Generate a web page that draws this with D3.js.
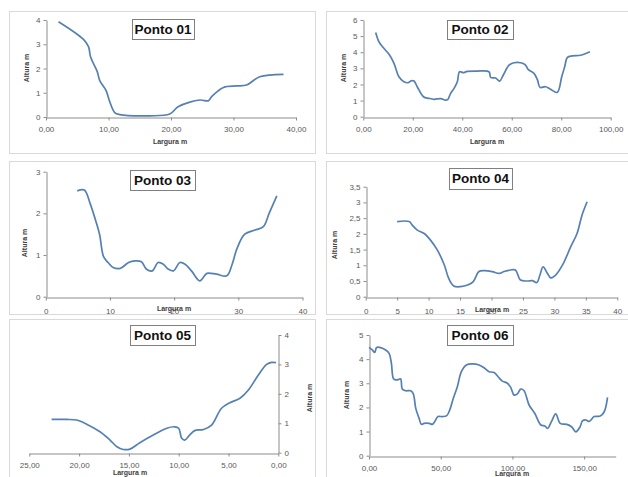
<!DOCTYPE html>
<html><head><meta charset="utf-8">
<script src="https://cdn.jsdelivr.net/npm/d3@7/dist/d3.min.js"></script>
<style>
html,body{margin:0;padding:0;background:#fff;}
svg{display:block;font-family:"Liberation Sans",Arial,sans-serif;}
</style></head><body>
<svg id="chart" width="628" height="477"></svg>
<script>
// ---------- DATA ----------
const titles = ["Ponto 01","Ponto 02","Ponto 03","Ponto 04","Ponto 05","Ponto 06"];
const xLabel = "Largura m";
const yLabel = "Altura m";

const p1X = [2,6,6.8,7.15,8.2,8.6,9.6,10.2,11.0,11.8,16.6,19.8,21.2,24.6,26,26.5,28.4,30.5,32.1,34.2,38];
const p1Y = [3.93,3.2,2.9,2.46,1.87,1.5,1.1,0.63,0.18,0.1,0.05,0.12,0.43,0.7,0.67,0.84,1.22,1.28,1.32,1.66,1.76];
const p1XTicks = [0,10,20,30,40];
const p1XTickLabels = ["0,00","10,00","20,00","30,00","40,00"];
const p1YTicks = [0,1,2,3,4];
const p1YTickLabels = ["0","1","2","3","4"];

const p2X = [5,6.3,7.7,10.4,12.4,14.4,16.4,18.2,19.4,20.5,21.8,24.3,26.5,28.6,31.3,33.3,34.2,35.3,36.7,38,38.9,40.4,42,46.1,50.8,51.5,53.5,55.1,56.6,58.9,60.9,63.6,65.4,66.6,69,70.4,71.4,73.7,75.5,78.4,80.2,81.4,82.5,84.5,87.9,91.6];
const p2Y = [5.23,4.66,4.35,3.87,3.31,2.48,2.17,2.11,2.23,2.21,1.86,1.24,1.14,1.08,1.12,1.03,1.08,1.45,1.76,2.17,2.79,2.73,2.81,2.83,2.79,2.44,2.4,2.21,2.59,3.2,3.35,3.35,3.23,2.94,2.69,2.28,1.82,1.86,1.72,1.51,2.48,3.1,3.68,3.77,3.81,4.03];
const p2XTicks = [0,20,40,60,80,100];
const p2XTickLabels = ["0,00","20,00","40,00","60,00","80,00","100,00"];
const p2YTicks = [0,1,2,3,4,5,6];
const p2YTickLabels = ["0","1","2","3","4","5","6"];

const p3X = [4.9,6.0,6.9,7.9,8.4,9.0,9.7,10.5,11.6,12.9,13.9,14.9,15.7,16.6,17.5,18.3,19.1,19.9,20.9,21.7,22.7,24.0,25.1,26.6,28.2,29.0,29.8,31.0,32.6,33.9,34.8,36.0];
const p3Y = [2.54,2.56,2.24,1.76,1.48,0.96,0.82,0.70,0.68,0.82,0.86,0.84,0.66,0.62,0.82,0.78,0.66,0.62,0.82,0.78,0.62,0.38,0.56,0.54,0.50,0.76,1.16,1.50,1.60,1.68,2.0,2.42];
const p3XTicks = [0,10,20,30,40];
const p3XTickLabels = ["0","10","20","30","40"];
const p3YTicks = [0,1,2,3];
const p3YTickLabels = ["0","1","2","3"];

const p4X = [5.0,6.9,7.4,8.2,9.3,10.3,11.4,12.5,13.2,14.0,15.1,16.2,17.1,18.0,18.8,20.1,21.2,22.0,23.0,23.8,24.6,25.7,26.5,27.2,27.7,28.2,28.9,29.4,30.2,31.3,32.6,33.6,34.4,35.2];
const p4Y = [2.39,2.39,2.28,2.12,2.01,1.80,1.48,1.01,0.58,0.34,0.32,0.37,0.48,0.80,0.83,0.80,0.74,0.80,0.85,0.85,0.53,0.50,0.51,0.45,0.69,0.95,0.74,0.60,0.69,1.01,1.59,2.01,2.60,3.02];
const p4XTicks = [0,5,10,15,20,25,30,35,40];
const p4XTickLabels = ["0","5","10","15","20","25","30","35","40"];
const p4YTicks = [0,0.5,1,1.5,2,2.5,3,3.5];
const p4YTickLabels = ["0","0,5","1","1,5","2","2,5","3","3,5"];

const p5X = [22.76,21.25,20.25,19.24,17.9,16.9,16.2,15.56,14.9,13.9,12.55,11.2,10.4,10.0,9.7,9.4,8.9,8.4,7.5,6.7,5.7,4.85,3.85,3.0,2.0,1.17,0.67,0.23];
const p5Y = [1.13,1.13,1.11,0.97,0.71,0.43,0.20,0.11,0.12,0.34,0.60,0.83,0.88,0.83,0.49,0.43,0.60,0.75,0.79,0.94,1.51,1.70,1.85,2.13,2.64,3.0,3.07,3.06];
const p5XTicks = [25,20,15,10,5,0];
const p5XTickLabels = ["25,00","20,00","15,00","10,00","5,00","0,00"];
const p5YTicks = [0,1,2,3,4];
const p5YTickLabels = ["0","1","2","3","4"];

const p6X = [0,2.3,4.0,5.3,8.1,11.6,14.0,15.6,17.0,18.6,20.9,22.1,23.3,25.6,29.1,30.9,32.6,34.9,36.5,38.4,41.9,44.2,45.8,48.1,51.2,54.2,56.5,58.8,61.6,64.4,67.9,72.1,76.7,80.7,83.7,87.2,90.0,93.0,96.5,98.8,101.2,103.5,105.8,108.1,111.6,115.6,119.8,122.6,124.4,127.2,130.2,133.3,137.9,141.2,144.2,147.2,148.8,151.2,153.5,157.0,161.2,164.0,166.3];
const p6Y = [4.49,4.38,4.28,4.48,4.48,4.38,4.24,3.83,3.20,3.14,3.16,3.18,2.75,2.69,2.69,2.56,1.96,1.55,1.30,1.34,1.34,1.30,1.41,1.62,1.62,1.66,1.93,2.38,2.86,3.48,3.76,3.80,3.76,3.62,3.48,3.45,3.27,3.09,3.00,2.83,2.51,2.56,2.76,2.69,2.10,1.75,1.27,1.23,1.13,1.41,1.73,1.34,1.30,1.20,0.99,1.20,1.44,1.48,1.42,1.62,1.64,1.82,2.42];
const p6XTicks = [0,50,100,150];
const p6XTickLabels = ["0,00","50,00","100,00","150,00"];
const p6YTicks = [0,1,2,3,4,5];
const p6YTickLabels = ["0","1","2","3","4","5"];

// ---------- LAYOUT ----------
const svg = d3.select("#chart");
const lineColor = "#5580b3";
const axisColor = "#8c8c8c";
const tickTextColor = "#595959";

const panels = [
  {box:[9,11,306,142], xs:p1X, ys:p1Y, xd:[0,40], yd:[0,4], xr:[46,296], yr:[117,20],
   xt:p1XTicks, xtl:p1XTickLabels, yt:p1YTicks, ytl:p1YTickLabels,
   title:titles[0], tb:[132,19,62,20], xl:[170,142], yl:[27,68], side:"left"},
  {box:[326,11,310,142], xs:p2X, ys:p2Y, xd:[0,100], yd:[0,6], xr:[363.3,610.7], yr:[116.7,20],
   xt:p2XTicks, xtl:p2XTickLabels, yt:p2YTicks, ytl:p2YTickLabels,
   title:titles[1], tb:[447,20,66,19], xl:[487,142], yl:[344,68], side:"left"},
  {box:[9,161,306,153], xs:p3X, ys:p3Y, xd:[0,40], yd:[0,3], xr:[45.8,302.5], yr:[296.7,171.7],
   xt:p3XTicks, xtl:p3XTickLabels, yt:p3YTicks, ytl:p3YTickLabels,
   title:titles[2], tb:[130,170,65,20], xl:[174,309], yl:[25,243], side:"left", tickOff:12},
  {box:[326,161,310,153], xs:p4X, ys:p4Y, xd:[0,40], yd:[0,3.5], xr:[365.7,617.3], yr:[296.7,186.7],
   xt:p4XTicks, xtl:p4XTickLabels, yt:p4YTicks, ytl:p4YTickLabels,
   title:titles[3], tb:[449,168,63,21], xl:[492,310], yl:[335,245], side:"left", tickOff:12},
  {box:[9,319,306,170], xs:p5X, ys:p5Y, xd:[25,0], yd:[0,4], xr:[29.3,278.3], yr:[452.7,335],
   xt:p5XTicks, xtl:p5XTickLabels, yt:p5YTicks, ytl:p5YTickLabels,
   title:titles[4], tb:[130,325,65,20], xl:[130,473], yl:[310,398], side:"right"},
  {box:[326,319,310,170], xs:p6X, ys:p6Y, xd:[0,172], yd:[0,5], xr:[369,615.7], yr:[455.7,335],
   xt:p6XTicks, xtl:p6XTickLabels, yt:p6YTicks, ytl:p6YTickLabels,
   title:titles[5], tb:[447,325,66,20], xl:[512,474.5], yl:[347,395], side:"left"}
];

function drawPanel(p){
  const g = svg.append("g");
  g.append("rect").attr("x",p.box[0]+0.5).attr("y",p.box[1]+0.5)
   .attr("width",p.box[2]).attr("height",p.box[3])
   .attr("fill","#fff").attr("stroke","#d9d9d9").attr("stroke-width",1);

  const x = d3.scaleLinear().domain(p.xd).range(p.xr);
  const y = d3.scaleLinear().domain(p.yd).range(p.yr);
  const off = p.tickOff || 10;

  const xa = d3.axisBottom(x).tickValues(p.xt)
    .tickFormat((d,i)=>p.xtl[i]).tickSizeOuter(0).tickSizeInner(3).tickPadding(off-4);
  const gx = g.append("g").attr("transform",`translate(0,${Math.round(y(0))+0.5})`).call(xa);
  const yax = p.side==="right" ? d3.axisRight(y) : d3.axisLeft(y);
  yax.tickValues(p.yt).tickFormat((d,i)=>p.ytl[i]).tickSizeOuter(0).tickSizeInner(3).tickPadding(3);
  const axX = p.side==="right" ? x(0) : x(p.xd[0]);
  const gy = g.append("g").attr("transform",`translate(${Math.round(axX)+0.5},0)`).call(yax);
  [gx,gy].forEach(a=>{
    a.select(".domain").attr("stroke",axisColor);
    a.selectAll(".tick line").attr("stroke",axisColor);
    a.selectAll(".tick text").attr("fill",tickTextColor)
      .style("font-size","8px").style("font-family","'Liberation Sans',Arial,sans-serif");
  });

  const line = d3.line().x(d=>x(d[0])).y(d=>y(d[1])).curve(d3.curveCatmullRom.alpha(0.5));
  const pts = p.xs.map((v,i)=>[v,p.ys[i]]);
  g.append("path").datum(pts).attr("d",line).attr("fill","none")
   .attr("stroke",lineColor).attr("stroke-width",1.7).attr("stroke-linejoin","round");

  g.append("text").attr("x",p.xl[0]).attr("y",p.xl[1]).attr("text-anchor","middle")
   .attr("dominant-baseline","middle")
   .style("font-size","7px").style("font-weight","bold").attr("fill","#404040").text(xLabel);
  g.append("text").attr("transform",`translate(${p.yl[0]},${p.yl[1]}) rotate(-90)`)
   .attr("text-anchor","middle").attr("dominant-baseline","middle")
   .style("font-size","7px").style("font-weight","bold").attr("fill","#404040").text(yLabel);

  g.append("rect").attr("x",p.tb[0]+0.5).attr("y",p.tb[1]+0.5).attr("width",p.tb[2]).attr("height",p.tb[3])
   .attr("fill","#fff").attr("stroke","#808080").attr("stroke-width",1);
  g.append("text").attr("x",p.tb[0]+p.tb[2]/2).attr("y",p.tb[1]+p.tb[3]/2+1)
   .attr("text-anchor","middle").attr("dominant-baseline","middle")
   .style("font-size","13.5px").style("font-weight","bold").attr("fill","#111").text(p.title);
}
panels.forEach(drawPanel);
</script>
</body></html>
